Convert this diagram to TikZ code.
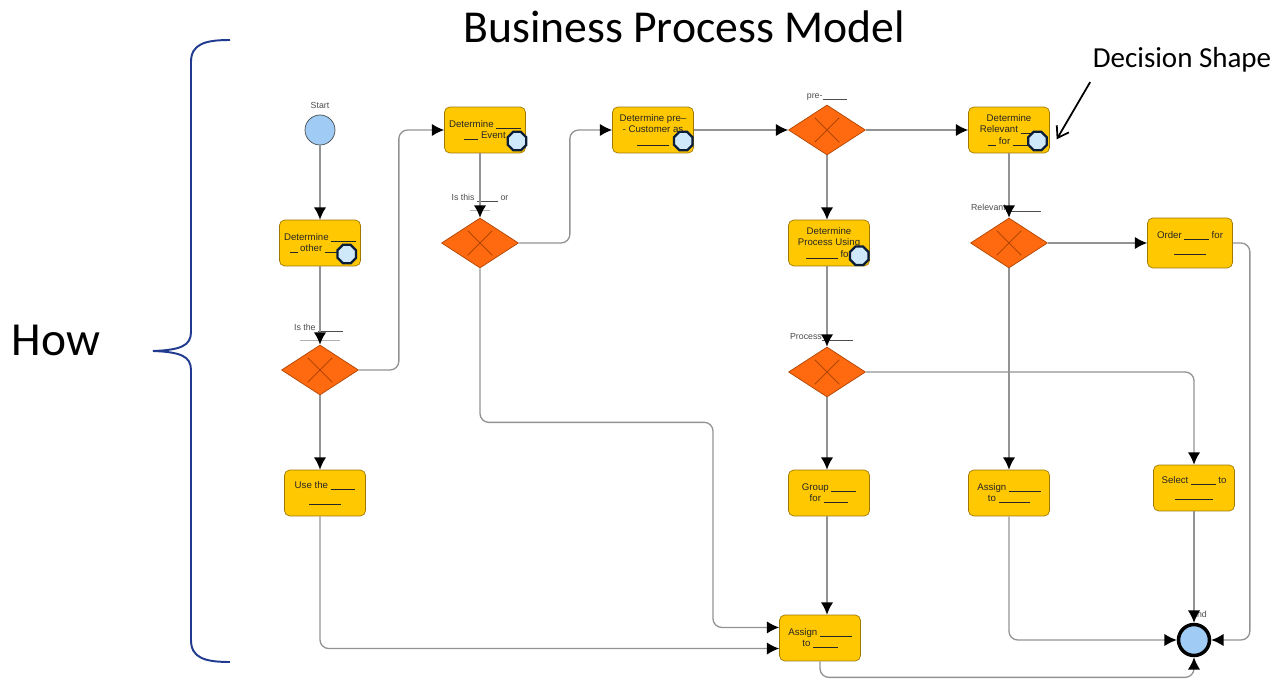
\documentclass[tikz,border=0pt]{standalone}
\usepackage{fontspec}
\setmainfont{Liberation Sans}
\newfontfamily\slidefont{Carlito}
\usetikzlibrary{shapes.geometric,arrows.meta,positioning,calc}

\definecolor{taskyellow}{HTML}{FFC800}
\definecolor{taskedge}{HTML}{A07800}
\definecolor{gateorange}{HTML}{FF6A10}
\definecolor{gateedge}{HTML}{B04400}
\definecolor{eventblue}{HTML}{9FCBF5}
\definecolor{iconblue}{HTML}{CFE9FA}
\definecolor{iconedge}{HTML}{0A1E3C}
\definecolor{bracecol}{HTML}{1F3A8E}

\newcommand{\fb}[1][12pt]{\rule[-0.6pt]{#1}{0.35pt}}

\begin{document}
\begin{tikzpicture}[
        x=0.02cm, y=-0.02cm,
        font=\fontsize{5.5}{6.5}\selectfont,
        % Block styles
        task/.style={
            rectangle,
            draw=taskedge,
            fill=taskyellow,
            rounded corners=3pt,
            minimum width=1.62cm,
            minimum height=0.92cm,
            inner sep=1pt,
            align=center,
            text=black!85
        },
        gateway/.style={
            diamond,
            draw=gateedge,
            fill=gateorange,
            minimum width=1.54cm,
            minimum height=1.0cm,
            inner sep=0pt,
            path picture={
                \draw[gateedge, line width=0.5pt]
                    ([shift={(-7pt,-7pt)}]path picture bounding box.center) -- ([shift={(7pt,7pt)}]path picture bounding box.center)
                    ([shift={(-7pt,7pt)}]path picture bounding box.center) -- ([shift={(7pt,-7pt)}]path picture bounding box.center);
            }
        },
        event/.style={circle, draw=black!70, fill=eventblue, minimum size=0.6cm, inner sep=0pt},
        icon/.style={
            regular polygon,
            regular polygon sides=8,
            draw=iconedge,
            line width=1.3pt,
            fill=iconblue,
            minimum size=0.4cm,
            inner sep=0pt
        },
        flow/.style={draw=gray!85, line width=0.75pt, rounded corners=5pt, -{Latex[length=7pt,width=7pt,color=black]}},
        tag/.style={font=\fontsize{5}{6}\selectfont, text=black!70, inner sep=1pt},
        tick/.style={draw=gray!60, line width=0.4pt},
        pointer/.style={-{Straight Barb[length=6pt,width=8pt]}, line width=1pt}
    ]
    \useasboundingbox (0,0) rectangle (1276,679);

    % Titles
    \node[font=\slidefont\fontsize{26}{30}\selectfont] (title) at (684,27) {Business Process Model};
    \node[font=\slidefont\fontsize{27}{30}\selectfont] (how) at (56,340) {How};
    \node[font=\slidefont\fontsize{16.5}{19}\selectfont] (decLbl) at (1182,60) {Decision Shape};

    % Brace
    \draw[bracecol, line width=1.1pt] (230,40) .. controls (205,40) and (191,44) .. (191,62) -- (191,332)
        .. controls (191,346) and (180,350) .. (153,351) .. controls (180,352) and (191,356) .. (191,370)
        -- (191,640) .. controls (191,658) and (205,662) .. (230,662);

    % Column 1
    \node[event] (start) at (320,130) {};
    \node[tag, above=2pt of start] (startLbl) {Start};
    \node[task] (detOther) at (320,243) {Determine \fb[14pt]\\\fb[4pt] other \fb[14pt]};
    \node[gateway] (gwIsThe) at (320,370) {};
    \node[task] (useThe) at (325,493) {Use the \fb[14pt]\\[2pt]\fb[18pt]};

    % Column 2
    \node[task] (detEvent) at (485,130) {Determine \fb[14pt]\\\fb[8pt] Event};
    \node[gateway] (gwIsThis) at (480,243) {};

    % Column 3
    \node[task] (detCust) at (653,130) {Determine pre--\\- Customer as\\\fb[18pt]\hspace{10pt}};
    \node[gateway] (gwPre) at (827,130) {};
    \node[task] (detProc) at (829,243) {Determine\\Process Using\\\fb[18pt] for\hspace{8pt}};
    \node[gateway] (gwProc) at (827,372) {};
    \node[task] (group) at (829,493) {Group \fb[14pt]\\for \fb[14pt]};
    \node[task] (assign) at (820,638) {Assign \fb[18pt]\\to \fb[14pt]};

    % Column 4
    \node[task] (detRel) at (1009,130) {Determine\\Relevant \fb[10pt]\\\fb[5pt] for \fb[10pt]\hspace{6pt}};
    \node[gateway] (gwRel) at (1009,243) {};
    \node[task] (assignTo) at (1009,493) {Assign \fb[18pt]\\to \fb[18pt]};

    % Column 5
    \node[task, minimum width=1.7cm, minimum height=1.0cm] (order) at (1190,243) {Order \fb[14pt] for\\[2pt]\fb[18pt]};
    \node[task] (select) at (1194,488) {Select \fb[14pt] to\\[2pt]\fb[22pt]};
    \node[tag] (stopLbl) at (1199,614) {End};
    \node[event, draw=black, line width=2pt, minimum size=0.62cm] (stop) at (1194,640) {};

    % Task markers
    \node[icon] (otherIcon) at ([xshift=-8pt,yshift=7pt]detOther.south east) {};
    \node[icon] (eventIcon) at ([xshift=-5pt,yshift=7pt]detEvent.south east) {};
    \node[icon] (custIcon) at ([xshift=-6pt,yshift=7pt]detCust.south east) {};
    \node[icon] (procIcon) at ([xshift=-6pt,yshift=6pt]detProc.south east) {};
    \node[icon] (relIcon) at ([xshift=-7pt,yshift=7pt]detRel.south east) {};

    % Flow labels
    \node[tag, anchor=west] (isTheLbl) at (292,328) {Is the \fb[14pt]};
    \draw[tick] ($(gwIsThe.north)+(-20,-4)$) -- ++(40,0);
    \node[tag] (isThisLbl) at (480,198) {Is this \fb[12pt] or};
    \draw[tick] ($(gwIsThis.north)+(-10,-7)$) -- ++(20,0);
    \node[tag] (preLbl) at (827,97) {pre-\fb[14pt]};
    \node[tag, anchor=west] (relLbl) at (969,208) {Relevant\fb[20pt]};
    \node[tag, anchor=west] (procLbl) at (788,337) {Process\fb[18pt]};

    % Connections
    \draw[flow] (start) -- (detOther);
    \draw[flow] (detOther) -- (gwIsThe);
    \draw[flow] (gwIsThe.south) -- (gwIsThe.south |- useThe.north);
    \draw[flow] (gwIsThe.east) -- ++(40,0) |- (detEvent.west);
    \draw[flow] (useThe.south -| gwIsThe) |- ([yshift=-6pt]assign.west);
    \draw[flow] (gwIsThis.north |- detEvent.south) -- (gwIsThis.north);
    \draw[flow] (gwIsThis.east) -- ++(51,0) |- (detCust.west);
    \draw[flow] (gwIsThis.south) -- ++(0,154) -- ++(233,0) |- ([yshift=6pt]assign.west);
    \draw[flow] (detCust) -- (gwPre);
    \draw[flow] (gwPre) -- (detRel);
    \draw[flow] (gwPre) -- (detProc.north -| gwPre);
    \draw[flow] (detProc.south -| gwProc) -- (gwProc);
    \draw[flow] (gwProc) -- (group.north -| gwProc);
    \draw[flow] (gwProc.east) -| (select.north);
    \draw[flow] (group.south -| gwProc) -- (assign.north -| gwProc);
    \draw[flow] (detRel) -- (gwRel);
    \draw[flow] (gwRel) -- (order);
    \draw[flow] (gwRel) -- (assignTo);
    \draw[flow] (order.east) -- ++(17,0) |- (stop.east);
    \draw[flow] (assignTo.south) |- (stop.west);
    \draw[flow] (select) -- (stop);
    \draw[flow] (assign.south) -- ++(0,16) -| (stop.south);

    % Pointer to marker
    \draw[pointer] ([xshift=2pt,yshift=-2pt]decLbl.south west) -- ([xshift=5pt,yshift=1pt]relIcon.east);

    \end{tikzpicture}
\end{document}
